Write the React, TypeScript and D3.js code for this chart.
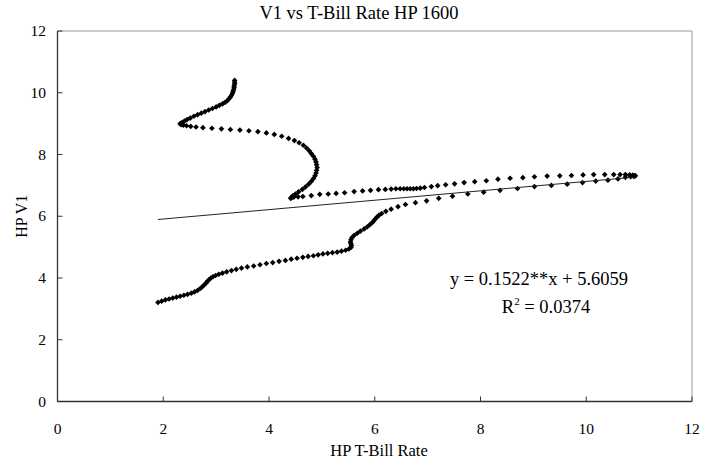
import * as d3 from 'd3';

const title = 'V1 vs T-Bill Rate HP 1600';
const xTitle = 'HP T-Bill Rate';
const yTitle = 'HP V1';
const xTicks = [0, 2, 4, 6, 8, 10, 12];
const yTicks = [0, 2, 4, 6, 8, 10, 12];

// regression shown on the chart
const slope = 0.1522;
const intercept = 5.6059;
const eqText = 'y = 0.1522**x + 5.6059';
const r2Text = '0.0374';

// [HP T-Bill rate, HP V1]
const hpPoints: [number, number][] = [
  [3.35, 10.40], [3.35, 10.34], [3.35, 10.28], [3.34, 10.22], [3.34, 10.16], [3.33, 10.10],
  [3.32, 10.04], [3.31, 9.98], [3.29, 9.92], [3.27, 9.86], [3.24, 9.80], [3.21, 9.74],
  [3.17, 9.69], [3.12, 9.64], [3.06, 9.59], [3.00, 9.54], [2.93, 9.49], [2.86, 9.44],
  [2.79, 9.39], [2.72, 9.34], [2.65, 9.29], [2.58, 9.24], [2.51, 9.18], [2.45, 9.13],
  [2.40, 9.08], [2.36, 9.04], [2.33, 9.01], [2.32, 8.99], [2.34, 8.97], [2.38, 8.95],
  [2.44, 8.93], [2.52, 8.91], [2.62, 8.89], [2.75, 8.87], [2.92, 8.85], [3.10, 8.83],
  [3.27, 8.81], [3.45, 8.79], [3.62, 8.77], [3.79, 8.74], [3.95, 8.70], [4.10, 8.65],
  [4.24, 8.59], [4.37, 8.52], [4.48, 8.45], [4.57, 8.38], [4.65, 8.30], [4.71, 8.21],
  [4.76, 8.12], [4.80, 8.03], [4.84, 7.94], [4.87, 7.85], [4.89, 7.76], [4.90, 7.67],
  [4.91, 7.58], [4.90, 7.49], [4.89, 7.40], [4.87, 7.31], [4.84, 7.22], [4.80, 7.13],
  [4.75, 7.04], [4.69, 6.95], [4.63, 6.87], [4.56, 6.79], [4.50, 6.72], [4.45, 6.66],
  [4.42, 6.61], [4.41, 6.58], [4.43, 6.60], [4.47, 6.62], [4.55, 6.63], [4.64, 6.64],
  [4.80, 6.67], [4.96, 6.71], [5.12, 6.72], [5.27, 6.74], [5.43, 6.76], [5.61, 6.80],
  [5.77, 6.82], [5.92, 6.84], [6.07, 6.86], [6.20, 6.87], [6.31, 6.88], [6.40, 6.89],
  [6.48, 6.89], [6.55, 6.89], [6.61, 6.89], [6.67, 6.89], [6.73, 6.89], [6.79, 6.90],
  [6.86, 6.91], [6.94, 6.93], [7.07, 6.96], [7.19, 6.99], [7.34, 7.02], [7.51, 7.05],
  [7.69, 7.09], [7.89, 7.12], [8.11, 7.15], [8.33, 7.20], [8.56, 7.23], [8.80, 7.25],
  [9.02, 7.28], [9.26, 7.30], [9.50, 7.31], [9.72, 7.32], [9.94, 7.34], [10.14, 7.35],
  [10.35, 7.35], [10.52, 7.35], [10.64, 7.35], [10.74, 7.35], [10.82, 7.34], [10.88, 7.33],
  [10.92, 7.32], [10.93, 7.31], [10.90, 7.29], [10.84, 7.28], [10.74, 7.26], [10.60, 7.21],
  [10.41, 7.17], [10.18, 7.14], [9.93, 7.09], [9.64, 7.04], [9.34, 7.00], [9.02, 6.96],
  [8.70, 6.90], [8.37, 6.84], [8.06, 6.78], [7.76, 6.72], [7.47, 6.65], [7.21, 6.58],
  [6.98, 6.50], [6.77, 6.44], [6.58, 6.38], [6.44, 6.31], [6.31, 6.23], [6.21, 6.16],
  [6.13, 6.09], [6.08, 6.03], [6.04, 5.97], [6.01, 5.91], [5.98, 5.85], [5.95, 5.79],
  [5.91, 5.73], [5.86, 5.66], [5.80, 5.59], [5.73, 5.52], [5.67, 5.45], [5.61, 5.38],
  [5.57, 5.31], [5.55, 5.24], [5.54, 5.17], [5.55, 5.11], [5.56, 5.05], [5.55, 4.99],
  [5.51, 4.94], [5.45, 4.90], [5.37, 4.87], [5.29, 4.84], [5.20, 4.82], [5.11, 4.80],
  [5.02, 4.78], [4.93, 4.75], [4.84, 4.72], [4.74, 4.70], [4.64, 4.67], [4.53, 4.64],
  [4.42, 4.61], [4.31, 4.57], [4.19, 4.54], [4.07, 4.50], [3.95, 4.47], [3.83, 4.43],
  [3.71, 4.39], [3.59, 4.36], [3.48, 4.32], [3.38, 4.28], [3.29, 4.24], [3.20, 4.20],
  [3.12, 4.16], [3.05, 4.12], [2.99, 4.08], [2.94, 4.04], [2.90, 4.00], [2.87, 3.95],
  [2.84, 3.90], [2.81, 3.84], [2.78, 3.78], [2.74, 3.72], [2.70, 3.66], [2.65, 3.60],
  [2.59, 3.55], [2.53, 3.51], [2.46, 3.47], [2.39, 3.44], [2.32, 3.41], [2.25, 3.38],
  [2.18, 3.35], [2.11, 3.32], [2.04, 3.29], [1.97, 3.25], [1.90, 3.21],
];

const W = 717;
const H = 464;
const m = { left: 57.5, right: 692, top: 31, bottom: 401.5 };
const font = '"Liberation Serif", "Times New Roman", serif';

export default function App() {
  const x = d3.scaleLinear().domain([0, 12]).range([m.left, m.right]);
  const y = d3.scaleLinear().domain([0, 12]).range([m.bottom, m.top]);

  const marker = d3.symbol().type(d3.symbolSquare).size(16)();
  const [xMin, xMax] = d3.extent(hpPoints, d => d[0]) as [number, number];

  return (
    <svg width={W} height={H} style={{ position: 'absolute', left: 0, top: 0, background: '#fff' }}
      fontFamily={font}>
      <text x={359} y={19} textAnchor="middle" fontSize={18.5}>{title}</text>

      {/* plot frame: grey top/right, dark axes left/bottom */}
      <line x1={m.left} x2={m.right} y1={m.top} y2={m.top} stroke="#9a9a9a" />
      <line x1={m.right} x2={m.right} y1={m.top} y2={m.bottom} stroke="#9a9a9a" />
      <line x1={m.left} x2={m.left} y1={m.top} y2={m.bottom} stroke="#333" strokeWidth={1.3} />
      <line x1={m.left} x2={m.right} y1={m.bottom} y2={m.bottom} stroke="#333" strokeWidth={1.3} />

      {xTicks.map(t => (
        <g key={'x' + t}>
          <line x1={x(t)} x2={x(t)} y1={m.bottom} y2={m.bottom - 5} stroke="#333" />
          <text x={x(t)} y={434} textAnchor="middle" fontSize={15.5}>{t}</text>
        </g>
      ))}
      {yTicks.map(t => (
        <g key={'y' + t}>
          <line x1={m.left} x2={m.left + 5} y1={y(t)} y2={y(t)} stroke="#333" />
          <text x={46} y={y(t) + 5} textAnchor="end" fontSize={15.5}>{t}</text>
        </g>
      ))}

      <text x={379} y={456} textAnchor="middle" fontSize={16.5}>{xTitle}</text>
      <text transform={`translate(27,${(m.top + m.bottom) / 2}) rotate(-90)`} textAnchor="middle" fontSize={16}>
        {yTitle}
      </text>

      {hpPoints.map((d, i) => (
        <path key={i} d={marker} fill="#000"
          transform={`translate(${x(d[0])},${y(d[1])}) rotate(45)`} />
      ))}

      <line x1={x(xMin)} y1={y(slope * xMin + intercept)} x2={x(xMax)} y2={y(slope * xMax + intercept)}
        stroke="#222" strokeWidth={1} />

      <text x={539} y={285} textAnchor="middle" fontSize={18.5}>{eqText}</text>
      <text x={546} y={313} textAnchor="middle" fontSize={18.5}>
        R<tspan dy={-8} fontSize={11}>2</tspan><tspan dy={8}> = {r2Text}</tspan>
      </text>
    </svg>
  );
}
